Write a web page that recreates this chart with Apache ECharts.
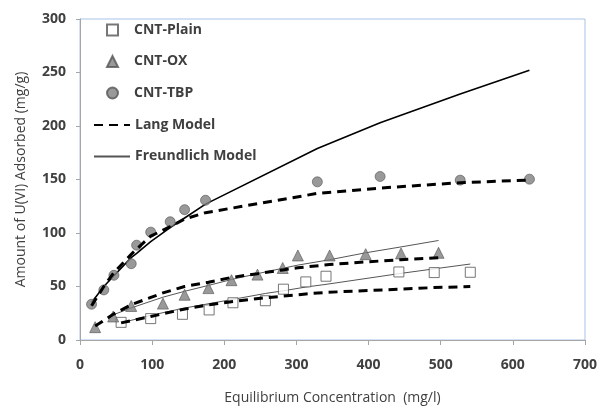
<!DOCTYPE html>
<html><head><meta charset="utf-8">
<script src="https://cdn.jsdelivr.net/npm/echarts@6/dist/echarts.min.js"></script>
<style>html,body{margin:0;padding:0;background:#fff}#c{width:600px;height:410px}</style>
</head><body><div id="c"></div>
<script>
// Experimental data
var plainX = [57, 98, 142, 179, 212, 257, 282, 313, 341, 442, 491, 541];
var plainY = [16.5, 20, 24, 28.1, 34.8, 36.7, 47.5, 54.3, 59.6, 63.6, 63, 63.3];
var oxX = [21, 46, 71, 115, 145, 178, 210, 246, 281, 302, 346, 396, 445, 497];
var oxY = [12, 22, 31.8, 34, 42.3, 48.5, 55.9, 61.1, 67.3, 79, 79, 80.2, 80.9, 81.5];
var tbpX = [16, 33, 47, 71, 78.5, 98, 125, 145, 174, 329, 416, 527, 623];
var tbpY = [33.4, 46.8, 60.5, 71.3, 88.6, 100.8, 110.5, 121.8, 130.6, 147.8, 152.8, 149.4, 150.3];
// Model curves
var tbpLangY = [32, 50, 63, 80, 85, 97, 106, 113, 119, 137, 142, 147, 149.5];
var tbpFreundY = [35, 50, 60, 77, 81, 92, 105, 114, 127, 179, 203, 230, 252];
var oxLangY = [13, 24, 33, 44, 50, 54, 58.5, 62, 65.5, 67.5, 70.5, 73, 75, 77];
var oxFreundX = [46, 71, 115, 145, 178, 210, 246, 281, 302, 346, 396, 445, 497];
var oxFreundY = [23.5, 30, 40, 45.5, 51, 56.5, 62, 67, 70, 75, 81.5, 87, 93];
var plainLangY = [16, 22, 28.5, 33, 36, 39.5, 41, 43, 44.5, 47.5, 49, 50];
var plainFreundY = [16, 23, 29.5, 34, 38, 43.5, 46, 49.5, 52, 62, 66.5, 71];
var markerNames = ['CNT-Plain', 'CNT-OX', 'CNT-TBP'];
var modelNames = ['Lang Model', 'Freundlich Model'];

function pairs(xs, ys) { return xs.map(function (x, i) { return [x, ys[i]]; }); }

var txt = '#404040';
var font = 'Open Sans';
var dash = { color: '#000', width: 3, type: [9, 6] };
var thin = { color: '#555', width: 1 };
var legendText = { fontFamily: font, fontWeight: 'bold', fontSize: 14, color: txt };

var chart = echarts.init(document.getElementById('c'));
chart.setOption({
  animation: false,
  grid: { left: 80, right: 13, top: 19, bottom: 69, show: true, borderColor: '#a9c3e8', borderWidth: 1 },
  legend: [
    {
      data: markerNames, orient: 'vertical', left: 106, top: 23, padding: 0, itemWidth: 11, itemHeight: 11, itemGap: 17.5,
      textStyle: Object.assign({ padding: [0, 0, 0, 11] }, legendText)
    },
    {
      data: modelNames.map(function (n) { return { name: n, itemStyle: { opacity: 0 } }; }),
      orient: 'vertical', left: 93, top: 118, padding: 0, itemWidth: 36, itemHeight: 11, itemGap: 17.5,
      textStyle: legendText
    }
  ],
  xAxis: {
    type: 'value', min: 0, max: 700, interval: 100,
    name: 'Equilibrium Concentration  (mg/l)', nameLocation: 'middle', nameGap: 51,
    nameTextStyle: { fontFamily: font, fontSize: 14, color: txt },
    axisLine: { lineStyle: { color: '#a6a6a6' } },
    axisTick: { show: true, length: 5, lineStyle: { color: '#a6a6a6' } },
    axisLabel: { margin: 18, fontFamily: font, fontWeight: 'bold', fontSize: 14, color: txt },
    splitLine: { show: false }
  },
  yAxis: {
    type: 'value', min: 0, max: 300, interval: 50,
    name: 'Amount of U(VI) Adsorbed (mg/g)', nameLocation: 'middle', nameGap: 52,
    nameTextStyle: { fontFamily: font, fontSize: 14, color: txt },
    axisLine: { show: true, lineStyle: { color: '#a6a6a6' } },
    axisTick: { show: true, length: 4, lineStyle: { color: '#a6a6a6' } },
    axisLabel: { margin: 14, fontFamily: font, fontWeight: 'bold', fontSize: 14, color: txt },
    splitLine: { show: false }
  },
  series: [
    { name: 'Freundlich Model', type: 'line', data: pairs(oxFreundX, oxFreundY), symbol: 'none', lineStyle: thin, itemStyle: { color: '#555' }, z: 2 },
    { name: 'Freundlich Model', type: 'line', data: pairs(plainX, plainFreundY), symbol: 'none', lineStyle: thin, itemStyle: { color: '#555' }, z: 2 },
    { name: 'Freundlich Model', type: 'line', data: pairs(tbpX, tbpFreundY), symbol: 'none', lineStyle: { color: '#000', width: 1.6 }, itemStyle: { color: '#000' }, z: 2 },
    { name: 'Lang Model', type: 'line', data: pairs(tbpX, tbpLangY), symbol: 'none', lineStyle: dash, itemStyle: { color: '#000' }, z: 4 },
    { name: 'Lang Model', type: 'line', data: pairs(oxX, oxLangY), symbol: 'none', lineStyle: dash, itemStyle: { color: '#000' }, z: 4 },
    { name: 'Lang Model', type: 'line', data: pairs(plainX, plainLangY), symbol: 'none', lineStyle: dash, itemStyle: { color: '#000' }, z: 4 },
    { name: 'CNT-Plain', type: 'scatter', data: pairs(plainX, plainY), symbol: 'rect', symbolSize: 10,
      itemStyle: { color: '#fff', borderColor: '#555', borderWidth: 1 }, z: 3 },
    { name: 'CNT-OX', type: 'scatter', data: pairs(oxX, oxY), symbol: 'triangle', symbolSize: 11,
      itemStyle: { color: '#7f7f7f', borderColor: '#555', borderWidth: 0.8 }, z: 3 },
    { name: 'CNT-TBP', type: 'scatter', data: pairs(tbpX, tbpY), symbol: 'circle', symbolSize: 10,
      itemStyle: { color: '#7f7f7f', borderColor: '#555', borderWidth: 0.8 }, z: 3 }
  ]
});
</script></body></html>
